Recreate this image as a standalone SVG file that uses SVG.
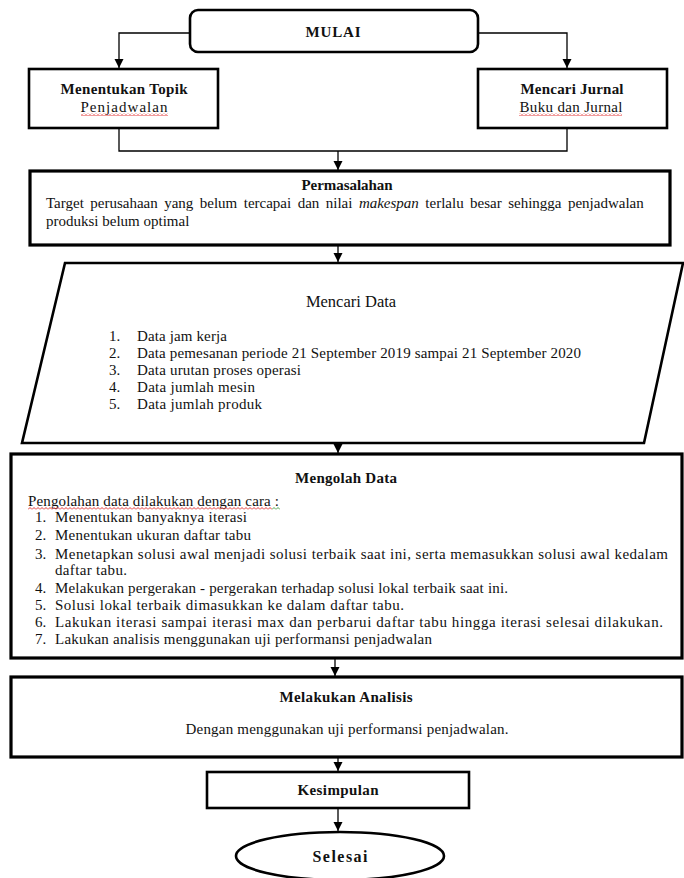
<svg xmlns="http://www.w3.org/2000/svg" width="684" height="878" viewBox="0 0 684 878">
<style>
  .box { fill: #fff; stroke: #000; stroke-width: 2.6; }
  .thin { fill: none; stroke: #000; stroke-width: 1.3; }
  .t { font-family: "Liberation Serif", "Times New Roman", serif; font-size: 15px; fill: #111; }
  .b { font-weight: bold; }
  .c { text-anchor: middle; }
</style>
<defs>
  <marker id="arr" markerUnits="userSpaceOnUse" markerWidth="10" markerHeight="10" refX="9" refY="5" orient="auto">
    <path d="M0,0.5 L9,5 L0,9.5 Z" fill="#000"/>
  </marker>
  <pattern id="wavyR" width="4" height="3" patternUnits="userSpaceOnUse">
    <path d="M0,2.5 L2,0.5 L4,2.5" fill="none" stroke="#e02020" stroke-width="0.9"/>
  </pattern>
  <pattern id="wavyG" width="4" height="3" patternUnits="userSpaceOnUse">
    <path d="M0,2.5 L2,0.5 L4,2.5" fill="none" stroke="#3a9a3a" stroke-width="0.9"/>
  </pattern>
</defs>

<rect width="684" height="878" fill="#fff"/>

<g id="connectors">
  <path class="thin" d="M190,33 H119 V68" marker-end="url(#arr)"/>
  <path class="thin" d="M478,33 H567 V68" marker-end="url(#arr)"/>
  <path class="thin" d="M119,128 V151 H567 V128"/>
  <path class="thin" d="M338,151 V170" marker-end="url(#arr)"/>
  <path class="thin" d="M338,245 V262" marker-end="url(#arr)"/>
  <path class="thin" d="M338,443 V453" marker-end="url(#arr)"/>
  <path class="thin" d="M335,658 V676" marker-end="url(#arr)"/>
  <path class="thin" d="M338,757 V771" marker-end="url(#arr)"/>
  <path class="thin" d="M338,809 V831" marker-end="url(#arr)"/>
</g>

<g id="mulai">
  <rect class="box" x="190" y="10" width="288" height="42" rx="8"/>
  <text class="t b c" x="333" y="37" textLength="55">MULAI</text>
</g>

<g id="menentukan-topik">
  <rect class="box" x="29" y="69" width="189" height="59"/>
  <text class="t b c" x="124" y="94" textLength="127">Menentukan Topik</text>
  <text class="t c" x="124" y="112" textLength="87">Penjadwalan</text>
  <rect x="81" y="113" width="87" height="3" fill="url(#wavyR)"/>
</g>

<g id="mencari-jurnal">
  <rect class="box" x="478" y="69" width="189" height="59"/>
  <text class="t b c" x="572" y="94" textLength="103">Mencari Jurnal</text>
  <text class="t c" x="571" y="112" textLength="103">Buku dan Jurnal</text>
  <rect x="519" y="113" width="103" height="3" fill="url(#wavyR)"/>
</g>

<g id="permasalahan">
  <rect class="box" x="30" y="171" width="640" height="74" style="stroke-width:3.2"/>
  <text class="t b c" x="347" y="190" textLength="91">Permasalahan</text>
  <text class="t" x="46" y="208" word-spacing="2.7">Target perusahaan yang belum  tercapai dan nilai <tspan font-style="italic">makespan</tspan> terlalu besar sehingga penjadwalan</text>
  <text class="t" x="46" y="226">produksi belum optimal</text>
</g>

<g id="mencari-data">
  <polygon class="box" points="65,263 683,263 644,443 22,443"/>
  <text class="t c" x="351" y="307" style="font-size:16.5px">Mencari Data</text>
  <text class="t" x="109" y="341">1.</text>
  <text class="t" x="137" y="341" textLength="90">Data jam kerja</text>
  <text class="t" x="109" y="358">2.</text>
  <text class="t" x="137" y="358" textLength="444">Data pemesanan periode 21 September 2019 sampai 21 September 2020</text>
  <text class="t" x="109" y="375">3.</text>
  <text class="t" x="137" y="375" textLength="164">Data urutan proses operasi</text>
  <text class="t" x="109" y="392">4.</text>
  <text class="t" x="137" y="392" textLength="118">Data jumlah mesin</text>
  <text class="t" x="109" y="409">5.</text>
  <text class="t" x="137" y="409" textLength="125">Data jumlah produk</text>
</g>

<g id="mengolah-data">
  <rect class="box" x="11" y="454" width="671" height="204" style="stroke-width:3.2"/>
  <text class="t b c" x="346" y="483" textLength="102">Mengolah Data</text>
  <text class="t" x="28" y="506" textLength="251">Pengolahan data dilakukan dengan cara :</text>
  <rect x="28" y="507" width="244" height="3" fill="url(#wavyR)"/>
  <rect x="272" y="507" width="8" height="3" fill="url(#wavyG)"/>
  <text class="t" x="35" y="522">1.</text>
  <text class="t" x="55" y="522" textLength="192">Menentukan banyaknya iterasi</text>
  <text class="t" x="35" y="540">2.</text>
  <text class="t" x="55" y="540" textLength="196">Menentukan ukuran daftar tabu</text>
  <text class="t" x="35" y="559">3.</text>
  <text class="t" x="55" y="559" textLength="613">Menetapkan solusi awal menjadi solusi terbaik saat ini, serta memasukkan solusi awal kedalam</text>
  <text class="t" x="55" y="575" textLength="72">daftar tabu.</text>
  <text class="t" x="35" y="593">4.</text>
  <text class="t" x="55" y="593" textLength="453">Melakukan pergerakan - pergerakan terhadap solusi lokal terbaik saat ini.</text>
  <text class="t" x="35" y="610">5.</text>
  <text class="t" x="55" y="610" textLength="349">Solusi lokal terbaik dimasukkan ke dalam daftar tabu.</text>
  <text class="t" x="35" y="627">6.</text>
  <text class="t" x="55" y="627" textLength="608">Lakukan iterasi sampai iterasi max dan perbarui daftar tabu hingga iterasi selesai dilakukan.</text>
  <text class="t" x="35" y="644">7.</text>
  <text class="t" x="55" y="644" textLength="377">Lakukan analisis menggunakan uji performansi penjadwalan</text>
</g>

<g id="melakukan-analisis">
  <rect class="box" x="11" y="677" width="671" height="80" style="stroke-width:3.2"/>
  <text class="t b c" x="346" y="702" textLength="133">Melakukan Analisis</text>
  <text class="t c" x="347" y="734" textLength="323">Dengan menggunakan uji performansi penjadwalan.</text>
</g>

<g id="kesimpulan">
  <rect class="box" x="207" y="772" width="262" height="36"/>
  <text class="t b c" x="338" y="795" textLength="81">Kesimpulan</text>
</g>

<g id="selesai">
  <ellipse class="box" cx="340" cy="856" rx="104" ry="24"/>
  <text class="t b c" x="340" y="862" style="font-size:16px" textLength="55">Selesai</text>
</g>
</svg>
